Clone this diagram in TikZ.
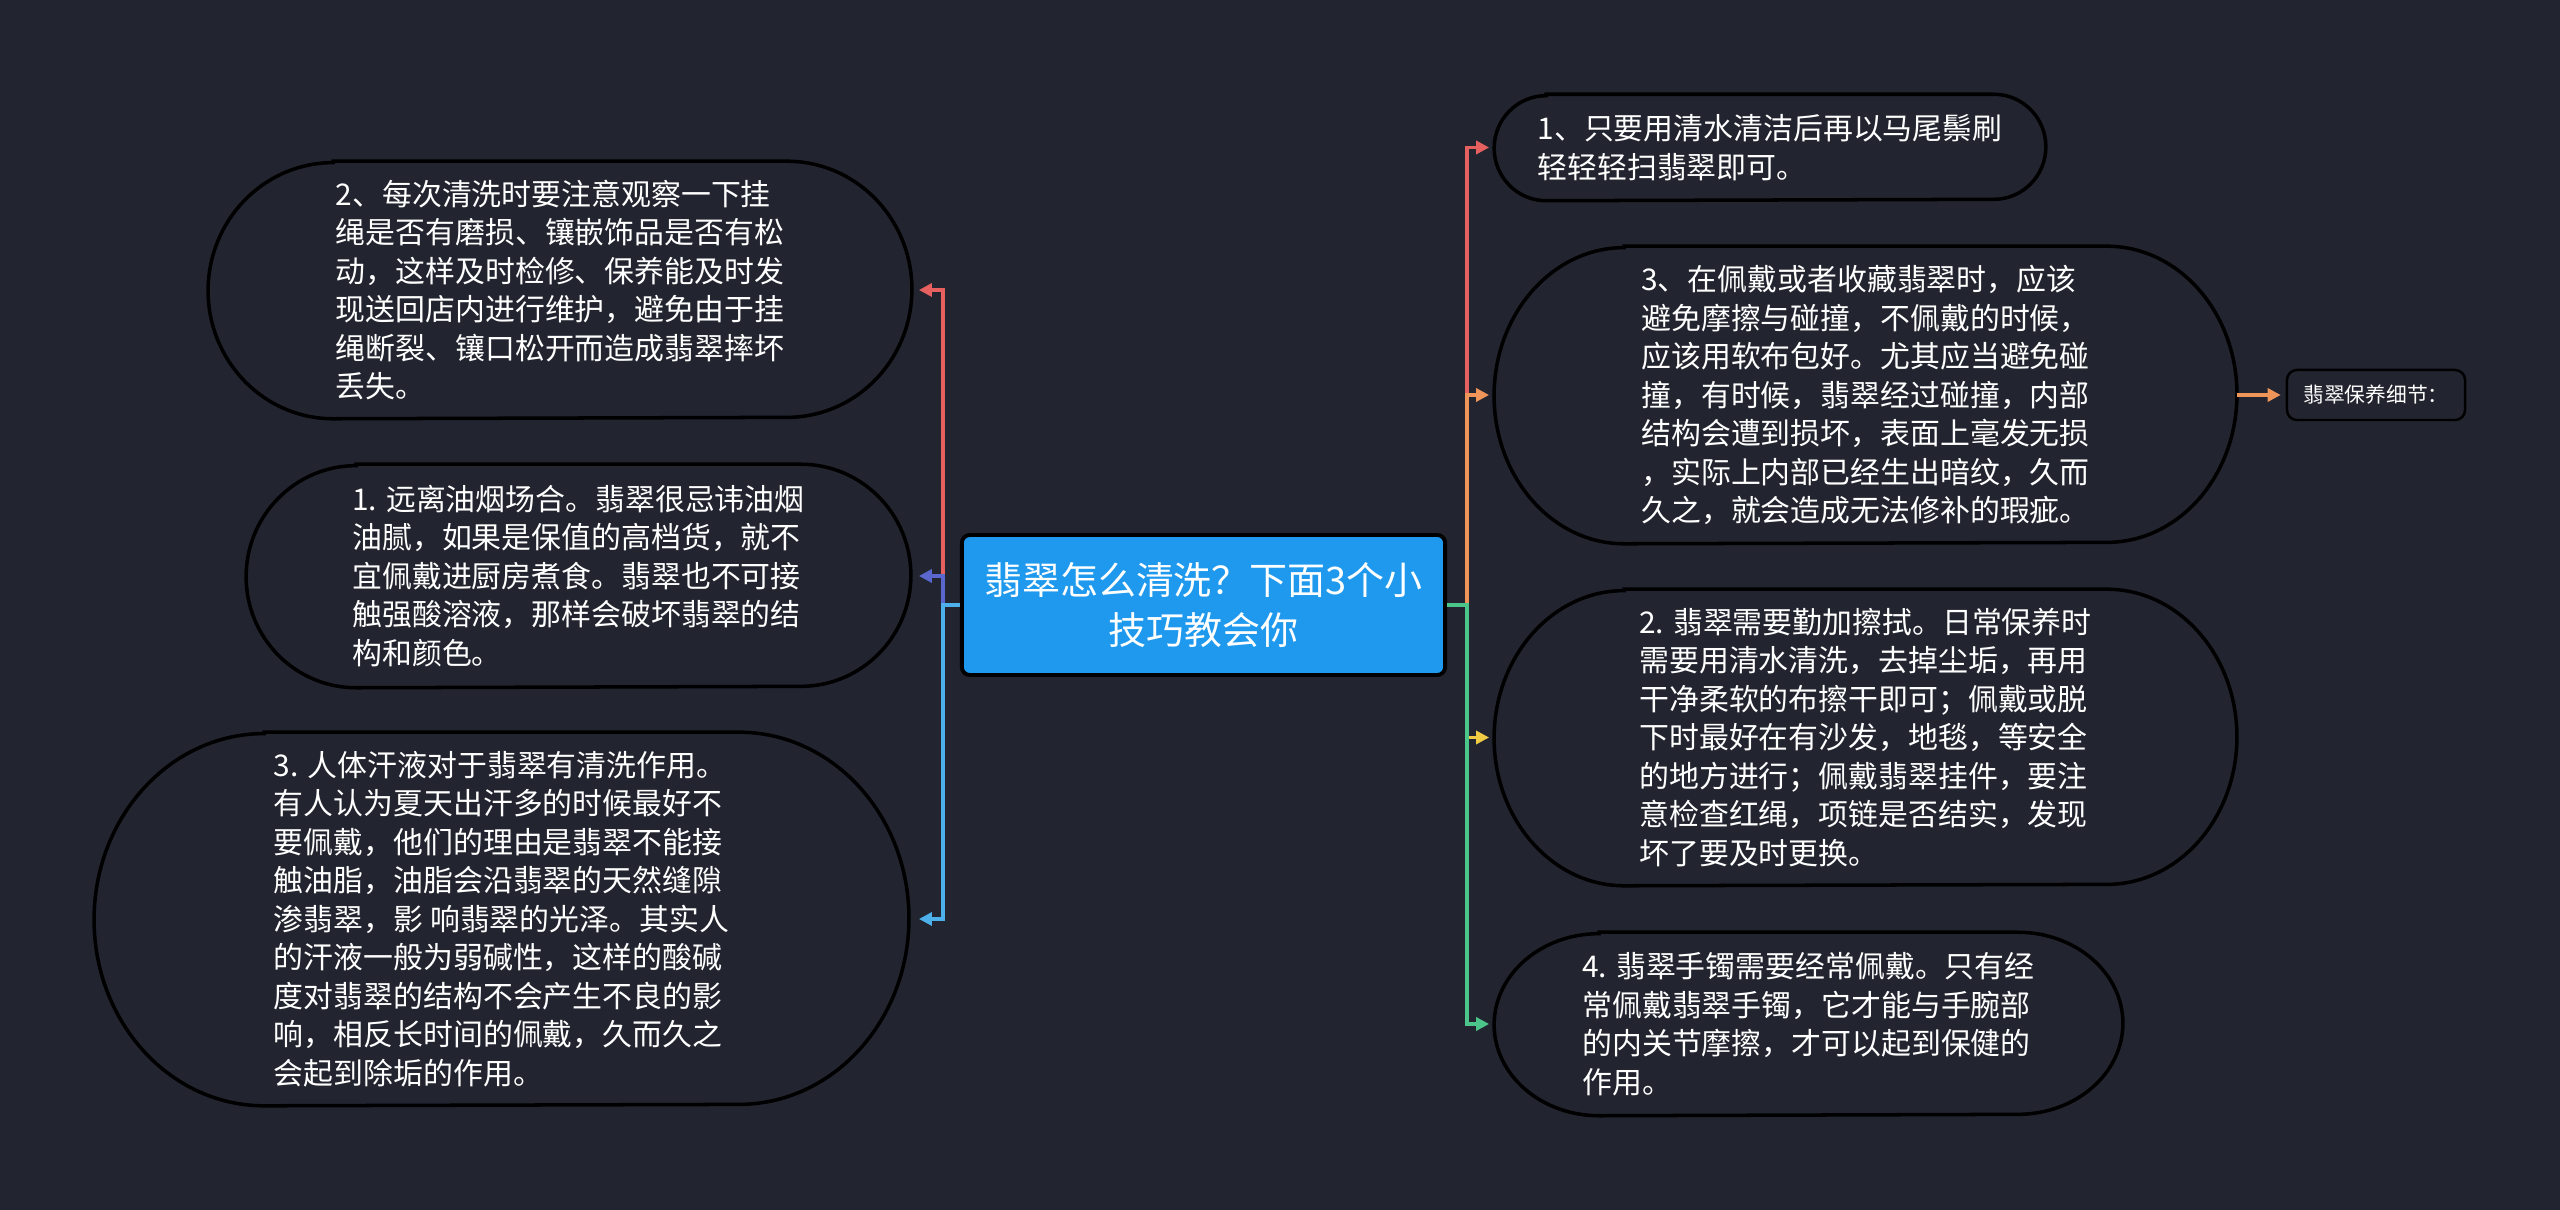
\documentclass[tikz,border=0pt]{standalone}
\usepackage{fontspec}
\setmainfont{Noto Sans CJK SC}
\usetikzlibrary{arrows.meta}
\definecolor{bg}{HTML}{22252F}
\definecolor{nodefill}{HTML}{22252F}
\definecolor{cblue}{HTML}{1E99EE}
\definecolor{lred}{HTML}{E5605E}
\definecolor{lpurple}{HTML}{5A67CF}
\definecolor{lsky}{HTML}{4DB0EA}
\definecolor{lorange}{HTML}{F0955A}
\definecolor{lyellow}{HTML}{F2CB45}
\definecolor{lgreen}{HTML}{4CC58A}
\pgfdeclarelayer{bgl}
\pgfsetlayers{bgl,main}
\newcommand\pillout[3]{%
  \draw[outl] ([xshift=#2]#1.north west) -- ([xshift=-#2]#1.north east)
    arc[start angle=90,end angle=-90,x radius=#2,y radius=#3]
    -- ([xshift=#2]#1.south west)
    arc[start angle=270,end angle=90,x radius=#2,y radius=#3] -- cycle;}
\begin{document}
\begin{tikzpicture}[x=0.01cm,y=-0.01cm,
  box/.style={inner sep=0pt, text=white, align=left,
    font=\fontsize{8.5pt}{10.95pt}\selectfont},
  outl/.style={draw=black, line width=1pt, fill=nodefill},
  conn/.style={line width=1.1pt, -{Triangle[length=0.13cm,width=0.13cm]}},
  center/.style={draw=black, line width=1.1pt, fill=cblue, rounded corners=0.08cm,
    text=white, align=center, inner sep=0pt,
    font=\fontsize{10.8pt}{14.2pt}\selectfont},
  small/.style={draw=black, line width=0.7pt, fill=nodefill, rounded corners=0.1cm,
    text=white, inner sep=0pt, font=\fontsize{5.9pt}{7pt}\selectfont}
]
\useasboundingbox (0,0) rectangle (2560,1210);

% central node
\node[center, minimum width=4.83cm, minimum height=1.40cm] (ctr) at (1203.5,605)
  {翡翠怎么清洗？下面3个小\\技巧教会你};

% left nodes
\node[box, minimum width=7.02cm, minimum height=2.56cm] (A) at (560,290)
  {2、每次清洗时要注意观察一下挂\\绳是否有磨损、镶嵌饰品是否有松\\动，这样及时检修、保养能及时发\\现送回店内进行维护，避免由于挂\\绳断裂、镶口松开而造成翡翠摔坏\\丢失。};
\node[box, minimum width=6.63cm, minimum height=2.22cm] (B) at (578.5,576)
  {1. 远离油烟场合。翡翠很忌讳油烟\\油腻，如果是保值的高档货，就不\\宜佩戴进厨房煮食。翡翠也不可接\\触强酸溶液，那样会破坏翡翠的结\\构和颜色。};
\node[box, minimum width=8.13cm, minimum height=3.72cm] (C) at (501.5,919)
  {3. 人体汗液对于翡翠有清洗作用。\\有人认为夏天出汗多的时候最好不\\要佩戴，他们的理由是翡翠不能接\\触油脂，油脂会沿翡翠的天然缝隙\\渗翡翠，影 响翡翠的光泽。其实人\\的汗液一般为弱碱性，这样的酸碱\\度对翡翠的结构不会产生不良的影\\响，相反长时间的佩戴，久而久之\\会起到除垢的作用。};

% right nodes
\node[box, minimum width=5.50cm, minimum height=1.05cm] (R1) at (1770,147.5)
  {1、只要用清水清洁后再以马尾鬃刷\\轻轻轻扫翡翠即可。};
\node[box, minimum width=7.41cm, minimum height=2.96cm] (R3) at (1865.5,395)
  {3、在佩戴或者收藏翡翠时，应该\\避免摩擦与碰撞，不佩戴的时候，\\应该用软布包好。尤其应当避免碰\\撞，有时候，翡翠经过碰撞，内部\\结构会遭到损坏，表面上毫发无损\\，实际上内部已经生出暗纹，久而\\久之，就会造成无法修补的瑕疵。};
\node[box, minimum width=7.41cm, minimum height=2.95cm] (R2) at (1865.5,737.5)
  {2. 翡翠需要勤加擦拭。日常保养时\\需要用清水清洗，去掉尘垢，再用\\干净柔软的布擦干即可；佩戴或脱\\下时最好在有沙发，地毯，等安全\\的地方进行；佩戴翡翠挂件，要注\\意检查红绳，项链是否结实，发现\\坏了要及时更换。};
\node[box, minimum width=6.27cm, minimum height=1.82cm] (R4) at (1808.5,1024)
  {4. 翡翠手镯需要经常佩戴。只有经\\常佩戴翡翠手镯，它才能与手腕部\\的内关节摩擦，才可以起到保健的\\作用。};

\node[small, minimum width=1.78cm, minimum height=0.50cm] (S) at (2376,395)
  {翡翠保养细节：};

\begin{pgfonlayer}{bgl}
  \fill[bg] (0,0) rectangle (2560,1210);
  \pillout{A}{1.25cm}{1.28cm}
  \pillout{B}{1.10cm}{1.11cm}
  \pillout{C}{1.70cm}{1.86cm}
  \pillout{R1}{0.52cm}{0.525cm}
  \pillout{R3}{1.30cm}{1.48cm}
  \pillout{R2}{1.30cm}{1.475cm}
  \pillout{R4}{1.05cm}{0.91cm}
\end{pgfonlayer}

% left connectors
\draw[conn,lred] (ctr.west) -- ++(-17,0) |- ([xshift=0.07cm]A.east);
\draw[conn,lpurple] (ctr.west) -- ++(-17,0) |- ([xshift=0.08cm]B.east);
\draw[conn,lsky] (ctr.west) -- ++(-17,0) |- ([xshift=0.10cm]C.east);

% right connectors
\draw[conn,lred] (ctr.east) -- ++(20,0) |- ([xshift=-0.05cm]R1.west);
\draw[conn,lorange] (ctr.east) -- ++(20,0) |- ([xshift=-0.05cm]R3.west);
\draw[conn,lyellow] (ctr.east) -- ++(20,0) |- ([xshift=-0.05cm]R2.west);
\draw[conn,lgreen] (ctr.east) -- ++(20,0) |- ([xshift=-0.05cm]R4.west);

\draw[conn,lorange,shorten >=0.05cm] (R3.east) -- (S.west);
\end{tikzpicture}
\end{document}
